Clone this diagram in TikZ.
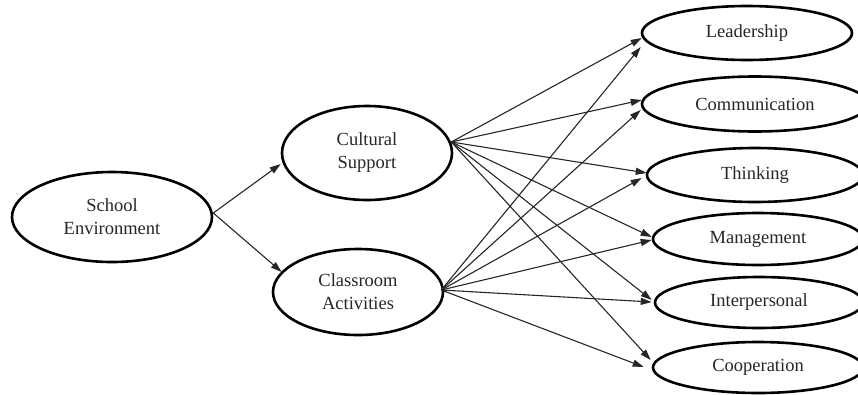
\documentclass[tikz,border=0pt]{standalone}
\usepackage{fontspec}
\setmainfont{Liberation Serif}
\usetikzlibrary{shapes.geometric,arrows.meta,calc}
\begin{document}
\begin{tikzpicture}[x=1pt,y=-1pt,
  oval/.style={ellipse,draw,line width=2.6pt,inner sep=0pt,align=center,
    font=\fontsize{18.5}{23}\selectfont,text=black!85},
  link/.style={line width=1.1pt,black!85,-{Triangle[length=11pt,width=7pt]}}]
\useasboundingbox (0,0) rectangle (858,394);
\clip (0,0) rectangle (858,394);
\node[oval,minimum width=200pt,minimum height=90pt] (se) at (112,217) {School\\Environment};
\node[oval,minimum width=170pt,minimum height=94pt] (cs) at (367,153) {Cultural\\Support};
\node[oval,minimum width=170pt,minimum height=86pt] (ca) at (358,292) {Classroom\\Activities};
\node[oval,minimum width=210pt,minimum height=54pt] (lead) at (747,33) {Leadership};
\node[oval,minimum width=226pt,minimum height=55pt] (comm) at (755,104) {Communication};
\node[oval,minimum width=216pt,minimum height=54pt] (think) at (755,175) {Thinking};
\node[oval,minimum width=210pt,minimum height=52pt] (mgmt) at (758,239) {Management};
\node[oval,minimum width=208pt,minimum height=51pt] (inter) at (759,302.5) {Interpersonal};
\node[oval,minimum width=210pt,minimum height=51pt] (coop) at (758,367.5) {Cooperation};
\coordinate (seout) at ($(se.east)+(0,-4)$);
\coordinate (csout) at ($(cs.east)+(-2,-11)$);
\coordinate (caout) at ($(ca.east)+(-3,-2)$);
\draw[link] (seout) -- ($(cs.west)+(0,11)$);
\draw[link] (seout) -- ($(ca.west)+(10,-20)$);
% from Cultural Support
\draw[link] (csout) -- ($(lead.west)+(1,5)$);
\draw[link] (csout) -- ($(comm.west)+(1,-4)$);
\draw[link] (csout) -- ($(think.west)+(1,-2)$);
\draw[link] (csout) -- ($(mgmt.west)+(0,-2)$);
\draw[link] (csout) -- ($(inter.west)+(-2,-2.5)$);
\draw[link] (csout) -- ($(coop.west)+(-1,-7.5)$);
% from Classroom Activities
\draw[link] (caout) -- ($(lead.west)+(0,14)$);
\draw[link] (caout) -- ($(comm.west)+(0,6)$);
\draw[link] (caout) -- ($(think.west)+(-4,3)$);
\draw[link] (caout) -- ($(mgmt.west)+(0,1)$);
\draw[link] (caout) -- ($(inter.west)+(-2,-0.5)$);
\draw[link] (caout) -- ($(coop.west)+(-8,-0.5)$);
\end{tikzpicture}
\end{document}
